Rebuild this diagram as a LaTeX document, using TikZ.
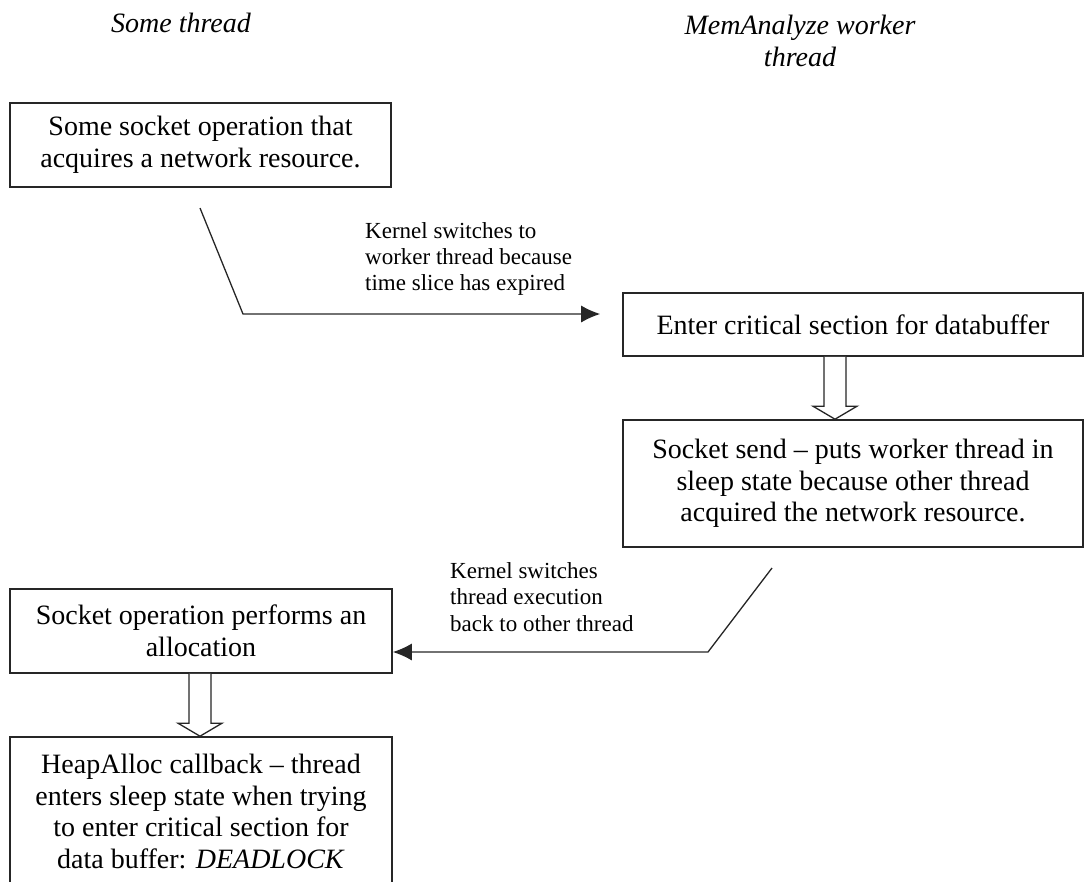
\documentclass[tikz,border=0pt]{standalone}
\usepackage{fontspec}
\setmainfont{Liberation Serif}
\usetikzlibrary{arrows.meta,calc}
\begin{document}
\begin{tikzpicture}[x=1pt,y=-1pt,
  box/.style={draw=black!85, line width=1.6pt, inner sep=0pt, align=center,
    font=\fontsize{28}{31.5}\selectfont},
  lbl/.style={align=left, inner sep=0pt, font=\fontsize{23}{26.3}\selectfont},
  ttl/.style={align=center, inner sep=0pt, font=\fontsize{28}{32}\selectfont\itshape},
  conn/.style={draw=black!85, line width=1.3pt, -{Latex[length=19pt,width=17pt]}},
  hollow/.style={draw=black!85, line width=1.3pt, fill=white, line join=miter}]
\useasboundingbox (0,0) rectangle (1086,881);
\clip (0,0) rectangle (1086,881);
% titles
\node[ttl] (t1) at (181,23) {Some thread};
\node[ttl] (t2) at (800,41) {MemAnalyze worker\\thread};
% boxes
\node[box, minimum width=381pt, minimum height=84pt] (b1) at (200.5,145)
  {Some socket operation that\\acquires a network resource.};
\node[box, minimum width=460pt, minimum height=63pt] (b2) at (853,324.5)
  {Enter critical section for databuffer};
\node[box, minimum width=460pt, minimum height=127pt] (b3) at (853,483.5)
  {Socket send -- puts worker thread in\\sleep state because other thread\\acquired the network resource.};
\node[box, minimum width=382pt, minimum height=84pt] (b4) at (201,631)
  {Socket operation performs an\\allocation};
\node[box, minimum width=382pt, minimum height=149pt] (b5) at (201,811.5)
  {HeapAlloc callback -- thread\\enters sleep state when trying\\to enter critical section for\\data buffer: \textit{DEADLOCK}};
% hollow block arrows
\coordinate (h1) at (835,0);
\draw[hollow] ($(b2.south -| h1)+(-11,0)$) -- ($(b3.north -| h1)+(-11,-13)$)
  -- ($(b3.north -| h1)+(-22,-13)$) -- (b3.north -| h1)
  -- ($(b3.north -| h1)+(22,-13)$) -- ($(b3.north -| h1)+(11,-13)$)
  -- ($(b2.south -| h1)+(11,0)$);
\coordinate (h2) at (200,0);
\draw[hollow] ($(b4.south -| h2)+(-11,0)$) -- ($(b5.north -| h2)+(-11,-13)$)
  -- ($(b5.north -| h2)+(-22,-13)$) -- (b5.north -| h2)
  -- ($(b5.north -| h2)+(22,-13)$) -- ($(b5.north -| h2)+(11,-13)$)
  -- ($(b4.south -| h2)+(11,0)$);
% connectors
\coordinate (c1s) at (200,208);
\coordinate (c1m) at (243,314);
\draw[conn, shorten >=22pt] (c1s) -- (c1m) -- (c1m -| b2.west);
\coordinate (c2s) at (772,568);
\coordinate (c2m) at (708,652);
\draw[conn] (c2s) -- (c2m) -- (c2m -| b4.east);
% labels
\node[lbl, anchor=west] (l1) at (365,259)
  {Kernel switches to\\worker thread because\\time slice has expired};
\node[lbl, anchor=west] (l2) at (450,597)
  {Kernel switches\\thread execution\\back to other thread};
\end{tikzpicture}
\end{document}
